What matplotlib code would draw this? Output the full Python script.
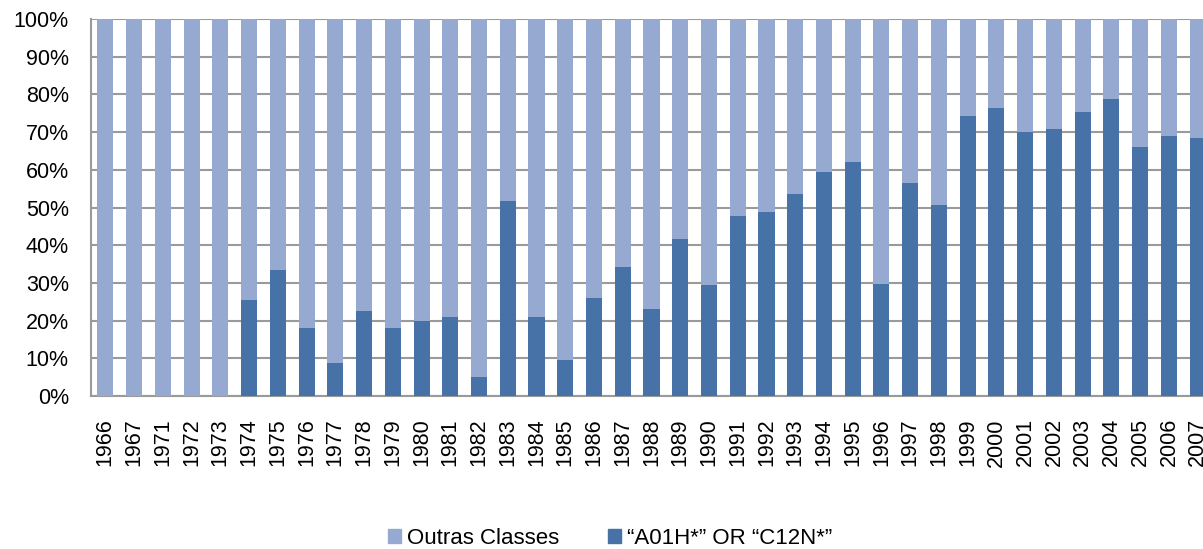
import numpy as np
import matplotlib.pyplot as plt
from matplotlib.ticker import PercentFormatter
from matplotlib.patches import Patch

plt.rcParams['font.family'] = ['Liberation Sans', 'DejaVu Sans']

years = ['1966', '1967', '1971', '1972', '1973', '1974', '1975', '1976', '1977',
         '1978', '1979', '1980', '1981', '1982', '1983', '1984', '1985', '1986',
         '1987', '1988', '1989', '1990', '1991', '1992', '1993', '1994', '1995',
         '1996', '1997', '1998', '1999', '2000', '2001', '2002', '2003', '2004',
         '2005', '2006', '2007']
# share of "A01H*" OR "C12N*" (percent)
a01h_c12n = [0, 0, 0, 0, 0, 25.5, 33.4, 18.0, 8.7,
             22.5, 18.0, 20.0, 21.0, 5.1, 51.6, 21.0, 9.5, 25.9,
             34.3, 23.0, 41.7, 29.4, 47.7, 48.8, 53.6, 59.5, 62.0,
             29.8, 56.6, 50.6, 74.4, 76.4, 69.9, 70.9, 75.3, 78.9,
             66.0, 69.0, 68.5]
outras = [100 - v for v in a01h_c12n]

dark = '#4672A8'
light = '#95A9D1'

fig = plt.figure(figsize=(12.03, 5.49), dpi=100)
ax = fig.add_axes([91 / 1203, 153 / 549, 1121 / 1203, 377 / 549])

x = np.arange(len(years))
ax.bar(x, a01h_c12n, width=0.56, color=dark, zorder=3)
ax.bar(x, outras, width=0.56, bottom=a01h_c12n, color=light, zorder=3)

ax.set_xlim(-0.5, len(years) - 0.5)
ax.set_ylim(0, 100)
ax.set_yticks(np.arange(0, 101, 10))
ax.yaxis.set_major_formatter(PercentFormatter(decimals=0))
ax.set_xticks(x)
ax.set_xticklabels(years, rotation=90, fontsize=15.5)
ax.tick_params(axis='x', length=0, pad=16)
ax.tick_params(axis='y', length=0, pad=16, labelsize=15.5)

ax.grid(axis='y', color='#9a9a9a', linewidth=1.5, zorder=0)
for side in ['top', 'right']:
    ax.spines[side].set_visible(False)
for side in ['left', 'bottom']:
    ax.spines[side].set_color('#9a9a9a')
    ax.spines[side].set_linewidth(1.5)

handles = [Patch(color=light, label='Outras Classes'),
           Patch(color=dark, label='\u201cA01H*\u201d OR \u201cC12N*\u201d')]
fig.legend(handles=handles, loc='center', bbox_to_anchor=(610 / 1203, 11 / 549),
           ncol=2, frameon=False, fontsize=16, handlelength=0.6, handleheight=0.6,
           handletextpad=0.25, columnspacing=2.2)

fig.savefig('out.png', dpi=100)
